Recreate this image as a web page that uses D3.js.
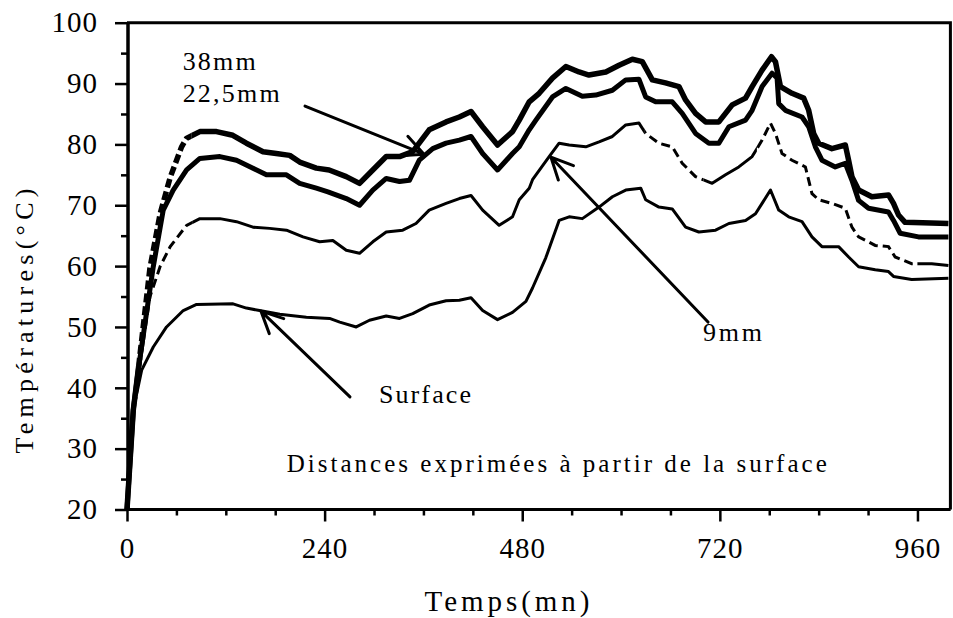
<!DOCTYPE html>
<html><head><meta charset="utf-8">
<script src="https://cdn.jsdelivr.net/npm/d3@7"></script>
<style>
body{margin:0;background:#fff}
svg{display:block}
text{font-family:"Liberation Serif","Times New Roman",serif;fill:#000}
</style>
</head><body>
<svg id="c" width="953" height="618"></svg>
<script>
// ---- data (time in minutes, temperature in °C) ----
const t38  = [0,7.6,13.7,27.9,40.4,52.5,66.3,72.4,88.5,108.7,128.5,145,165.2,181.3,197.6,209.7,229.9,245.5,266.3,282.4,298.5,314.8,331,347,367,387.5,403.6,417.8,431.9,450,468.2,476.4,488.5,500.6,516.7,533,549,561,581.5,597.6,613.7,625.8,638,654,670.3,678.4,690.5,702.7,718.8,735,751.2,759.2,771.3,782.7,787.5,793.6,807.6,821.8,827.9,833.9,840,856.1,872.4,876.4,880.4,888.5,904.6,924.8,930.9,937,945,997.6];
const v38  = [20,36.3,43,59.7,68.7,74.6,79.6,81,82.1,82.1,81.5,80.2,78.8,78.5,78.2,77.1,76.1,75.8,74.7,73.6,75.8,78,78,78.8,82.4,83.7,84.5,85.4,82.9,79.9,82.1,84,87,88.4,90.9,92.8,91.9,91.4,91.9,93,94,93.6,90.6,90.1,89.5,87.3,85.1,83.7,83.7,86.5,87.6,89.5,92.2,94.4,93.6,89.5,88.4,87.6,85.6,81.8,80.2,79.3,79.9,77.4,74.7,72.5,71.4,71.7,70.3,68.4,67.2,67];

const t225 = [0,7.6,13.7,31.9,44,56.1,72.4,88.5,112.8,133,153,169.3,193.6,209.7,229.9,244,266.3,282.4,298.5,314.8,331,343,355,371.3,387.5,403.6,417.8,431.9,450,468.2,476.4,488.5,496.6,516.7,533,553,569.3,589.5,605.7,621.8,629.9,642,662.2,674.3,690.5,706.7,718.8,731,751.2,759.2,771.3,783.4,789.5,791.5,799.6,819.8,827.9,836,844,860.2,872.4,880.4,888.5,900.6,924.8,930.9,939,961.2,997.6];
const v225 = [20,36.3,43,59.9,69.2,72.5,75.8,77.7,78,77.4,76.1,75,75,73.6,72.8,72.2,71.1,70,72.5,74.4,73.9,74.1,77.4,79.3,80.2,80.7,81.3,78.5,75.8,78.5,79.6,82.4,84,87.8,89.2,87.9,88.1,88.9,90.6,90.7,87.8,87,87,85.1,81.8,80.2,80.2,82.9,84,85.6,89.5,91.7,90.9,86.7,85.6,84.5,82.9,79.6,77.4,76.3,76.9,74.1,70.8,69.5,68.9,67.5,65.4,64.8,64.8];

const t9   = [0,7.6,13.7,27.9,40.4,52.5,72.4,88.5,112.8,133,153,173.3,193.6,213.8,234,250,266.3,282.4,298.5,314.8,334.9,351,367,387.5,403.6,417.8,431.9,452,468.2,476.4,488.5,492.5,512.7,524.8,537,557.2,573.3,589.5,605.7,621.8,629.9,646,662.2,674.3,690.5,710.7,726.9,743,759.2,771.3,781.5,787.5,795.5,807.6,823.9,831.9,840,856.1,872.4,880.4,888.5,908.7,924.8,932.9,953,977.3,997.6];
const v9   = [20,36,42,55,60,63.2,66.7,67.8,67.8,67.3,66.4,66.2,65.9,64.8,64,64.2,62.6,62.1,64,65.6,65.9,67,69.2,70.3,71.1,71.6,69.2,66.7,68.1,70.9,72.8,74.2,78,80.2,79.9,79.6,80.4,81.3,83.2,83.5,81.8,80.2,79.6,76.9,74.7,73.6,75,76.3,78,80.7,83.5,81.8,78.5,77.4,76.3,71.9,70.9,70.3,69.5,66.4,64.8,63.4,63.2,61.5,60.4,60.4,60.1];

const tSurf = [0,3,7.6,17.8,31.9,48,68.3,84.5,128.8,145,161,185.5,217.8,246,258.4,278.4,294.5,314.8,331,347,367,387.5,403.6,417.8,431.9,450,468.2,484.5,492.5,508.7,524.8,537,553,573.3,589.5,605.7,623.9,629.9,646,662.2,678.4,694.5,714.8,731,751.2,763.3,771.3,781.5,791.5,803.6,819.8,831.9,844,864.2,876.4,888.5,908.7,924.8,930.9,953,997.6];
const vSurf = [20,30,36.3,42.9,46.7,50,52.7,53.7,53.8,53.1,52.7,52.1,51.6,51.4,50.8,50,51.1,51.8,51.4,52.2,53.6,54.3,54.4,54.8,52.7,51.2,52.4,54.2,56.4,61.4,67.5,68.1,67.8,69.7,71.4,72.5,72.8,70.9,69.7,69.4,66.4,65.6,65.9,67,67.5,68.6,70.3,72.5,69.2,68.1,67.3,64.8,63.2,63.2,61.5,59.9,59.4,59.1,58.3,57.8,58];

const xTicks = [0,240,480,720,960];
const xMinor = [60,120,180,300,360,420,540,600,660,780,840,900];
const yTicks = [20,30,40,50,60,70,80,90,100];
const yMinor = [25,35,45,55,65,75,85,95];

const xTitle = "Temps(mn)";
const yTitle = "Températures(°C)";
const note = "Distances exprimées à partir de la surface";

// annotation anchors (data units)
const labels = [
  {text:"38mm",   t:67.6,  T:92.2, w:73},
  {text:"22,5mm", t:67.6,  T:87.0, w:97},
  {text:"Surface",t:306,   T:37.55,w:92},
  {text:"9mm",    t:699.5, T:47.7, w:59},
  {text:note,     t:194,   T:26.2, w:540}
];
const arrows = [
  {t0:216.2, T0:86.3, t1:360.7, T1:78.4},
  {t0:270.8, T0:38.5, t1:162.7, T1:52.6},
  {t0:705.6, T0:50.8, t1:514.9, T1:77.9}
];

// ---- drawing ----
const svg = d3.select("#c");
const x = d3.scaleLinear().domain([0,1000]).range([127,950.4]);
const y = d3.scaleLinear().domain([20,100]).range([509.5,22.7]);
const L = x(0), R = x(1000), B = y(20), Tp = y(100);

// frame top/right
svg.append("path").attr("d",`M${L},${Tp}H${R}V${B}`).attr("fill","none").attr("stroke","#000").attr("stroke-width",3);

// axes
const fs = 29;
const gy = svg.append("g").attr("transform",`translate(${L+1},0)`)
  .call(d3.axisLeft(y).tickValues(yTicks).tickSize(13).tickPadding(17).tickFormat(d3.format("d")));
const gy2 = svg.append("g").attr("transform",`translate(${L+1},0)`)
  .call(d3.axisLeft(y).tickValues(yMinor).tickSize(7).tickFormat(""));
const gx = svg.append("g").attr("transform",`translate(0,${B})`)
  .call(d3.axisBottom(x).tickValues(xTicks).tickSize(12).tickPadding(16).tickFormat(d3.format("d")));
const gx2 = svg.append("g").attr("transform",`translate(0,${B})`)
  .call(d3.axisBottom(x).tickValues(xMinor).tickSize(6).tickFormat(""));
[gy,gy2,gx,gx2].forEach(g=>{
  g.select(".domain").attr("stroke-width",3).attr("stroke","#000");
  g.selectAll(".tick line").attr("stroke-width",2.5).attr("stroke","#000");
  g.selectAll(".tick text").attr("font-size",fs).attr("font-family","Liberation Serif").attr("letter-spacing",1).attr("fill","#000");
});
gx2.select(".domain").attr("d",`M${L},0H${R}`);
gx.select(".domain").attr("d",`M${L},0H${R}`);
gy.select(".domain").attr("d",`M0,${B}V${Tp}`);
gy2.select(".domain").attr("d",`M0,${B}V${Tp}`);

// titles
svg.append("text").attr("x",507).attr("y",611).attr("text-anchor","middle")
  .attr("font-size",29).attr("textLength",165).attr("lengthAdjust","spacing").text(xTitle);
svg.append("text").attr("transform","translate(33,321) rotate(-90)").attr("text-anchor","middle")
  .attr("font-size",26).attr("textLength",265).attr("lengthAdjust","spacing").text(yTitle);

// series with dashed ranges via clip paths
const defs = svg.append("defs");
const line = d3.line().x(d=>x(d[0])).y(d=>y(d[1])).curve(d3.curveLinear);
let cid = 0;
function drawSeries(ts, vs, width, dashRanges, dash){
  const pts = ts.map((t,i)=>[t,vs[i]]);
  const idD = "cd"+(cid), idS = "cs"+(cid); cid++;
  const cd = defs.append("clipPath").attr("id",idD);
  const cs = defs.append("clipPath").attr("id",idS);
  let prev = -50;
  dashRanges.forEach(r=>{
    cd.append("rect").attr("x",x(r[0])).attr("y",0).attr("width",x(r[1])-x(r[0])).attr("height",618);
    cs.append("rect").attr("x",x(prev)).attr("y",0).attr("width",x(r[0])-x(prev)).attr("height",618);
    prev = r[1];
  });
  cs.append("rect").attr("x",x(prev)).attr("y",0).attr("width",x(1100)-x(prev)).attr("height",618);
  svg.append("path").datum(pts).attr("d",line).attr("fill","none").attr("stroke","#000")
    .attr("stroke-width",width).attr("stroke-linejoin","round").attr("clip-path",`url(#${idS})`);
  svg.append("path").datum(pts).attr("d",line).attr("fill","none").attr("stroke","#000")
    .attr("stroke-width",width).attr("stroke-dasharray",dash).attr("clip-path",`url(#${idD})`);
}
drawSeries(tSurf, vSurf, 3, [], "0");
drawSeries(t9, v9, 3, [[22,80],[628,700],[765,960]], "9,5");
drawSeries(t225, v225, 5, [], "0");
drawSeries(t38, v38, 5.5, [[12,78]], "9,4");

// labels
labels.forEach(l=>{
  svg.append("text").attr("x",x(l.t)).attr("y",y(l.T)).attr("font-size",l.text.length>20?25:26)
    .attr("textLength",l.w).attr("lengthAdjust","spacing").text(l.text);
});

// arrows
arrows.forEach(a=>{
  const x0=x(a.t0), y0=y(a.T0), x1=x(a.t1), y1=y(a.T1);
  const ang = Math.atan2(y0-y1, x0-x1), len=24, spread=0.45;
  const p = d3.path();
  p.moveTo(x0,y0); p.lineTo(x1,y1);
  p.moveTo(x1+len*Math.cos(ang+spread), y1+len*Math.sin(ang+spread)); p.lineTo(x1,y1);
  p.lineTo(x1+len*Math.cos(ang-spread), y1+len*Math.sin(ang-spread));
  svg.append("path").attr("d",p.toString()).attr("fill","none").attr("stroke","#000")
    .attr("stroke-width",3).attr("stroke-linecap","round").attr("stroke-linejoin","round");
});
</script>
</body></html>
